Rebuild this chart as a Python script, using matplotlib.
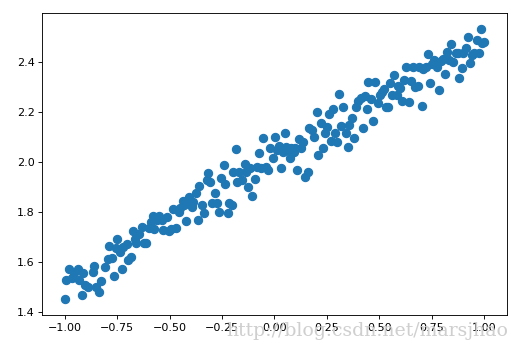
import matplotlib
matplotlib.use("Agg")
import matplotlib.pyplot as plt

# points (x, y)
x_vals = [-1.0, -0.997, -0.98, -0.967, -0.956, -0.94, -0.933, -0.921, -0.912, -0.904,
          -0.888, -0.867, -0.86, -0.853, -0.839, -0.829, -0.811, -0.797, -0.788, -0.776,
          -0.767, -0.756, -0.75, -0.737, -0.727, -0.721, -0.705, -0.697, -0.686, -0.676,
          -0.668, -0.659, -0.648, -0.633, -0.625, -0.614, -0.601, -0.59, -0.581, -0.574,
          -0.562, -0.549, -0.538, -0.53, -0.514, -0.504, -0.493, -0.482, -0.471, -0.458,
          -0.452, -0.439, -0.433, -0.423, -0.414, -0.406, -0.396, -0.387, -0.375, -0.366,
          -0.358, -0.347, -0.334, -0.323, -0.315, -0.307, -0.296, -0.286, -0.275, -0.266,
          -0.253, -0.243, -0.234, -0.224, -0.215, -0.204, -0.196, -0.185, -0.177, -0.167,
          -0.156, -0.143, -0.135, -0.124, -0.116, -0.105, -0.095, -0.084, -0.073, -0.062,
          -0.053, -0.041, -0.032, -0.021, -0.008, 0.003, 0.011, 0.022, 0.03, 0.04,
          0.048, 0.054, 0.064, 0.072, 0.08, 0.091, 0.1, 0.11, 0.119, 0.127,
          0.138, 0.148, 0.158, 0.167, 0.178, 0.189, 0.202, 0.21, 0.221, 0.231,
          0.242, 0.253, 0.261, 0.27, 0.278, 0.29, 0.301, 0.31, 0.318, 0.329,
          0.34, 0.35, 0.358, 0.369, 0.38, 0.39, 0.401, 0.412, 0.422, 0.43,
          0.441, 0.449, 0.46, 0.469, 0.481, 0.492, 0.504, 0.512, 0.523, 0.533,
          0.544, 0.552, 0.563, 0.573, 0.584, 0.592, 0.6, 0.608, 0.619, 0.628,
          0.64, 0.651, 0.663, 0.671, 0.683, 0.692, 0.703, 0.711, 0.724, 0.732,
          0.743, 0.754, 0.764, 0.775, 0.784, 0.794, 0.804, 0.812, 0.823, 0.834,
          0.843, 0.854, 0.866, 0.875, 0.883, 0.894, 0.902, 0.913, 0.923, 0.934,
          0.945, 0.955, 0.966, 0.977, 0.985, 0.993, 1.0]
y_vals = [1.451, 1.527, 1.569, 1.533, 1.553, 1.571, 1.527, 1.467, 1.553, 1.507,
          1.50, 1.56, 1.583, 1.50, 1.477, 1.523, 1.58, 1.609, 1.664, 1.616,
          1.543, 1.653, 1.689, 1.64, 1.569, 1.657, 1.671, 1.607, 1.62, 1.724,
          1.689, 1.676, 1.711, 1.74, 1.673, 1.673, 1.733, 1.76, 1.783, 1.731,
          1.767, 1.783, 1.767, 1.727, 1.78, 1.723, 1.729, 1.809, 1.736, 1.797,
          1.813, 1.843, 1.827, 1.763, 1.847, 1.86, 1.82, 1.84, 1.873, 1.767,
          1.903, 1.827, 1.796, 1.927, 1.953, 1.92, 1.836, 1.876, 1.833, 1.80,
          1.936, 1.987, 1.911, 1.793, 1.836, 1.827, 1.96, 2.049, 1.917, 1.96,
          1.927, 1.989, 1.96, 1.90, 1.973, 1.863, 1.929, 1.98, 2.033, 1.973,
          2.096, 1.98, 1.967, 2.053, 2.016, 2.10, 2.047, 2.064, 1.976, 2.04,
          2.113, 2.06, 2.047, 2.013, 2.053, 2.04, 2.056, 1.967, 2.089, 2.053,
          2.08, 1.94, 1.957, 2.133, 2.127, 2.10, 2.197, 2.027, 2.153, 2.053,
          2.113, 2.137, 2.191, 2.084, 2.209, 2.113, 2.08, 2.269, 2.143, 2.22,
          2.116, 2.057, 2.147, 2.173, 2.096, 2.22, 2.243, 2.256, 2.133, 2.263,
          2.209, 2.317, 2.249, 2.163, 2.317, 2.233, 2.267, 2.28, 2.289, 2.22,
          2.217, 2.316, 2.267, 2.347, 2.267, 2.303, 2.293, 2.243, 2.327, 2.377,
          2.24, 2.323, 2.377, 2.297, 2.303, 2.377, 2.223, 2.371, 2.38, 2.431,
          2.313, 2.391, 2.407, 2.38, 2.287, 2.403, 2.409, 2.351, 2.44, 2.407,
          2.471, 2.40, 2.433, 2.433, 2.333, 2.373, 2.433, 2.453, 2.497, 2.396,
          2.427, 2.433, 2.487, 2.433, 2.531, 2.473, 2.48]

fig = plt.figure(figsize=(6.5, 4.3625), dpi=80)
ax = fig.add_axes([0.0815, 0.0974, 0.8942, 0.8646])
ax.scatter(x_vals, y_vals, s=55, c="#1f77b4")
ax.set_xlim(-1.108, 1.112)
ax.set_ylim(1.387, 2.593)
ax.set_xticks([-1.0, -0.75, -0.5, -0.25, 0.0, 0.25, 0.5, 0.75, 1.0])
ax.set_yticks([1.4, 1.6, 1.8, 2.0, 2.2, 2.4])

# watermark
fig.text(0.977, 0.037, "http://blog.csdn.net/marsjhao", ha="right", va="baseline",
         fontsize=17, color="#cfcfcf", family="DejaVu Serif", zorder=0)

fig.savefig("out.png", dpi=80)
